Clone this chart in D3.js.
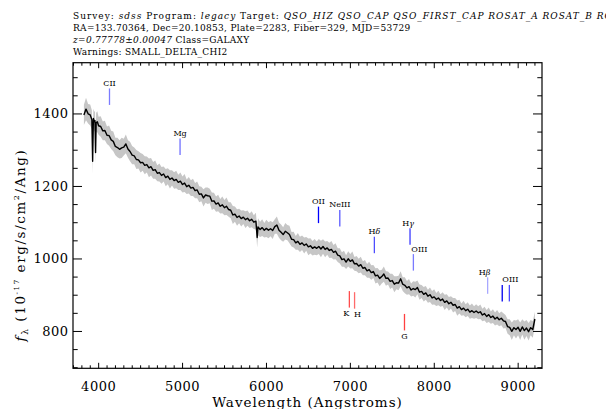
<!DOCTYPE html>
<html>
<head>
<meta charset="utf-8">
<script src="https://cdn.jsdelivr.net/npm/d3@7"></script>
<style>
body { margin: 0; background: #fff; }
svg { display: block; }
</style>
</head>
<body>
<div id="wrapper"></div>
<script>
// spectrum (Angstroms / 1e-17 erg/s/cm^2/Ang)
const wave = [
    3830, 3855, 3880, 3905, 3925, 3934, 3943, 3955, 3962, 3969,
    3976, 3990, 4005, 4030, 4055, 4080, 4105, 4130, 4155, 4180,
    4205, 4230, 4255, 4280, 4305, 4330, 4355, 4380, 4405, 4430,
    4455, 4480, 4505, 4530, 4555, 4580, 4605, 4630, 4655, 4680,
    4705, 4730, 4755, 4780, 4805, 4830, 4855, 4880, 4905, 4930,
    4955, 4980, 5005, 5030, 5055, 5080, 5105, 5130, 5155, 5180,
    5205, 5230, 5255, 5280, 5305, 5330, 5355, 5380, 5405, 5430,
    5455, 5480, 5505, 5530, 5555, 5580, 5605, 5630, 5655, 5680,
    5705, 5730, 5755, 5780, 5805, 5830, 5855, 5880, 5895, 5905,
    5930, 5955, 5980, 6005, 6030, 6055, 6080, 6105, 6130, 6155,
    6180, 6205, 6230, 6255, 6280, 6305, 6330, 6355, 6380, 6405,
    6430, 6455, 6480, 6505, 6530, 6555, 6580, 6605, 6630, 6655,
    6680, 6705, 6730, 6755, 6780, 6805, 6830, 6855, 6880, 6905,
    6930, 6955, 6980, 7005, 7030, 7055, 7080, 7105, 7130, 7155,
    7180, 7205, 7230, 7255, 7280, 7305, 7330, 7355, 7380, 7405,
    7430, 7455, 7480, 7505, 7530, 7555, 7580, 7605, 7630, 7655,
    7680, 7705, 7730, 7755, 7780, 7805, 7830, 7855, 7880, 7905,
    7930, 7955, 7980, 8005, 8030, 8055, 8080, 8105, 8130, 8155,
    8180, 8205, 8230, 8255, 8280, 8305, 8330, 8355, 8380, 8405,
    8430, 8455, 8480, 8505, 8530, 8555, 8580, 8605, 8630, 8655,
    8680, 8705, 8730, 8755, 8780, 8805, 8830, 8855, 8880, 8905,
    8930, 8955, 8980, 9005, 9030, 9055, 9080, 9105, 9130, 9155,
    9180, 9205
]
const flux = [
    1396, 1412, 1399, 1396, 1383, 1268, 1386, 1377, 1380, 1292,
    1375, 1377, 1366, 1364, 1352, 1353, 1340, 1339, 1327, 1323,
    1309, 1306, 1301, 1305, 1307, 1316, 1302, 1295, 1285, 1283,
    1273, 1272, 1264, 1265, 1257, 1259, 1250, 1253, 1243, 1245,
    1235, 1237, 1229, 1233, 1223, 1227, 1218, 1222, 1215, 1218,
    1210, 1213, 1204, 1208, 1198, 1202, 1194, 1196, 1187, 1189,
    1177, 1178, 1167, 1175, 1173, 1172, 1158, 1159, 1150, 1153,
    1144, 1148, 1140, 1144, 1135, 1133, 1120, 1122, 1113, 1117,
    1110, 1114, 1107, 1111, 1104, 1108, 1100, 1103, 1058, 1087,
    1080, 1085, 1078, 1083, 1078, 1082, 1077, 1088, 1092, 1078,
    1072, 1066, 1075, 1071, 1066, 1053, 1052, 1043, 1047, 1039,
    1043, 1036, 1040, 1032, 1035, 1028, 1032, 1028, 1033, 1026,
    1033, 1025, 1029, 1022, 1025, 1017, 1020, 1009, 1007, 997,
    999, 990, 999, 992, 996, 985, 986, 979, 983, 973,
    975, 966, 969, 961, 964, 952, 954, 945, 950, 957,
    945, 946, 937, 939, 929, 933, 932, 944, 929, 926,
    919, 922, 913, 917, 914, 920, 907, 909, 901, 905,
    896, 900, 891, 894, 887, 891, 884, 888, 879, 883,
    875, 879, 871, 873, 863, 867, 859, 863, 856, 860,
    852, 856, 851, 855, 850, 853, 844, 848, 840, 845,
    837, 841, 833, 838, 831, 835, 828, 826, 812, 810,
    799, 809, 804, 810, 799, 811, 801, 808, 798, 809,
    804, 833
]
const fluxErr = [
    28, 31, 27, 29, 26, 34, 27, 28, 26, 30,
    27, 29, 25, 28, 26, 27, 24, 28, 25, 27,
    24, 27, 25, 28, 23, 26, 24, 27, 25, 23,
    26, 24, 27, 23, 25, 22, 26, 24, 23, 25,
    22, 25, 23, 21, 24, 22, 25, 21, 23, 24,
    21, 24, 22, 25, 20, 23, 22, 24, 21, 23,
    22, 20, 24, 21, 23, 20, 24, 22, 21, 23,
    20, 23, 21, 24, 20, 22, 25, 21, 23, 20,
    22, 19, 23, 21, 20, 22, 19, 23, 28, 24,
    21, 23, 20, 24, 22, 21, 23, 20, 24, 21,
    22, 20, 23, 21, 24, 20, 22, 19, 23, 21,
    20, 22, 19, 23, 21, 20, 22, 19, 21, 23,
    20, 22, 19, 21, 23, 20, 22, 19, 21, 20,
    22, 19, 21, 20, 23, 19, 21, 20, 22, 19,
    21, 19, 22, 20, 18, 21, 20, 22, 19, 21,
    20, 18, 21, 19, 22, 18, 20, 21, 19, 22,
    19, 21, 18, 20, 22, 19, 21, 18, 20, 19,
    18, 20, 19, 21, 18, 20, 17, 19, 21, 18,
    19, 17, 20, 18, 21, 19, 17, 20, 18, 19,
    18, 20, 17, 19, 18, 20, 17, 19, 18, 20,
    17, 19, 18, 20, 18, 19, 21, 18, 20, 22,
    24, 21, 25, 22, 24, 21, 25, 22, 24, 21,
    23, 20
]

const xTicks = [4000, 5000, 6000, 7000, 8000, 9000]
const yTicks = [800, 1000, 1200, 1400]

// spectral line markers: label, observed wavelength, flux at marker top, kind
const lineNames = ["CII", "Mg", "OII", "NeIII", "H|δ", "H|γ", "OIII", "H|β", "", "OIII", "K", "H", "G"]
const lineWaves = [4135, 4976, 6626, 6880, 7292, 7717, 7757, 8642, 8816, 8901, 6994, 7056, 7651]
const lineTops = [1469, 1331, 1143, 1134, 1060, 1083, 1012, 948, 927, 927, 910, 907, 847]
const lineKinds = ["em", "em", "em", "em", "em", "em", "em", "em", "em", "em", "abs", "abs", "abs"]
const lineColors = ["#7b7bff", "#7070ff", "#0000ff", "#5a5aff", "#4d4dff", "#3a3aff", "#7a7aff",
    "#a8a8ff", "#0000ee", "#4848ff", "#ff4d4d", "#ff6a6a", "#ff4040"]
const labelShift = [0, 0, 0, 0, 0, -2, 6, -3, 0, 1, -3, 3, 0]

const width = 606
const height = 409
const frame = { left: 73, right: 542, top: 62.7, bottom: 368.3 }
const serif = "'DejaVu Serif', serif"

const svg = d3.select("#wrapper").append("svg")
    .attr("width", width).attr("height", height)

const x = d3.scaleLinear().domain([3700, 9290]).range([frame.left, frame.right])
const y = d3.scaleLinear().domain([697, 1540]).range([frame.bottom, frame.top])

// header lines
const header = [
    [["Survey: ", 0], ["sdss", 1], [" Program: ", 0], ["legacy", 1], [" Target: ", 0],
     ["QSO_HIZ QSO_CAP QSO_FIRST_CAP ROSAT_A ROSAT_B ROSAT_D", 1]],
    [["RA=133.70364, Dec=20.10853, Plate=2283, Fiber=329, MJD=53729", 0]],
    [["z=0.77778\u00b10.00047", 1], [" Class=GALAXY", 0]],
    [["Warnings: SMALL_DELTA_CHI2", 0]]
]
const headerSpacing = [1, 0.3, 0.3, 0.3]
header.forEach((row, i) => {
    const t = svg.append("text")
        .attr("x", 73).attr("y", 18.5 + i * 12.1)
        .style("font-family", serif).style("font-size", "9px")
        .style("letter-spacing", headerSpacing[i] + "px").attr("fill", "#000")
    row.forEach(([s, it]) => {
        t.append("tspan").text(s).style("font-style", it ? "italic" : "normal")
    })
})

const data = wave.map((w, i) => ({ w: w, f: flux[i], e: fluxErr[i] }))

const plot = svg.append("g")

plot.append("path")
    .datum(data)
    .attr("fill", "#c6c6c6")
    .attr("d", d3.area().x(d => x(d.w)).y0(d => y(d.f - d.e)).y1(d => y(d.f + d.e)))

plot.append("path")
    .datum(data)
    .attr("fill", "none")
    .attr("stroke", "#000")
    .attr("stroke-width", 1.4)
    .attr("stroke-linejoin", "round")
    .attr("d", d3.line().x(d => x(d.w)).y(d => y(d.f)))

// line markers
const markLen = 16.5
lineWaves.forEach((w, i) => {
    const xp = x(w)
    const top = y(lineTops[i])
    plot.append("line")
        .attr("x1", xp).attr("x2", xp)
        .attr("y1", top).attr("y2", top + markLen)
        .attr("stroke", lineColors[i]).attr("stroke-width", 1.3)
    if (!lineNames[i]) return
    const ly = lineKinds[i] === "em" ? top - 2.5 : top + markLen + 8.5
    const t = plot.append("text")
        .attr("x", xp + labelShift[i]).attr("y", ly)
        .attr("text-anchor", "middle")
        .style("font-family", serif).style("font-size", "8px").attr("fill", "#000")
    const parts = lineNames[i].split("|")
    t.append("tspan").text(parts[0])
    if (parts[1]) t.append("tspan").text(parts[1]).style("font-style", "italic")
})

// axes
function styleAxis(g) {
    g.select(".domain").remove()
    g.selectAll("line").attr("stroke", "#000")
    g.selectAll("text")
        .style("font-family", serif).style("font-size", "13px")
        .style("letter-spacing", "0.5px").attr("fill", "#000")
}

const xMinor = d3.range(3700, 9300, 100).filter(v => v % 1000 !== 0)
const yMinor = d3.range(700, 1550, 50).filter(v => v % 200 !== 0)

svg.append("g").attr("transform", `translate(0,${frame.bottom})`)
    .call(d3.axisBottom(x).tickValues(xTicks).tickFormat(d3.format("d")).tickSize(-5.5).tickPadding(13)).call(styleAxis)
svg.append("g").attr("transform", `translate(0,${frame.bottom})`)
    .call(d3.axisBottom(x).tickValues(xMinor).tickFormat("").tickSize(-3)).call(styleAxis)
svg.append("g").attr("transform", `translate(0,${frame.top})`)
    .call(d3.axisTop(x).tickValues(xTicks).tickFormat("").tickSize(-5.5)).call(styleAxis)
svg.append("g").attr("transform", `translate(0,${frame.top})`)
    .call(d3.axisTop(x).tickValues(xMinor).tickFormat("").tickSize(-3)).call(styleAxis)

svg.append("g").attr("transform", `translate(${frame.left},0)`)
    .call(d3.axisLeft(y).tickValues(yTicks).tickFormat(d3.format("d")).tickSize(-9).tickPadding(4.5)).call(styleAxis)
svg.append("g").attr("transform", `translate(${frame.left},0)`)
    .call(d3.axisLeft(y).tickValues(yMinor).tickFormat("").tickSize(-4.7)).call(styleAxis)
svg.append("g").attr("transform", `translate(${frame.right},0)`)
    .call(d3.axisRight(y).tickValues(yTicks).tickFormat("").tickSize(-9)).call(styleAxis)
svg.append("g").attr("transform", `translate(${frame.right},0)`)
    .call(d3.axisRight(y).tickValues(yMinor).tickFormat("").tickSize(-4.7)).call(styleAxis)

svg.append("rect")
    .attr("x", frame.left).attr("y", frame.top)
    .attr("width", frame.right - frame.left).attr("height", frame.bottom - frame.top)
    .attr("fill", "none").attr("stroke", "#000").attr("stroke-width", 1.2)

// axis titles
svg.append("text")
    .attr("x", (frame.left + frame.right) / 2).attr("y", 407)
    .attr("text-anchor", "middle")
    .style("font-family", serif).style("font-size", "13.5px").style("letter-spacing", "1px")
    .text("Wavelength (Angstroms)")

const yl = svg.append("text")
    .attr("transform", "translate(25,245) rotate(-90)")
    .attr("text-anchor", "middle")
    .style("font-family", serif).style("font-size", "13.5px").style("letter-spacing", "1.6px")
yl.append("tspan").text("f").style("font-style", "italic")
yl.append("tspan").text("\u03bb").style("font-size", "9px").attr("dy", 3)
yl.append("tspan").text(" (10").attr("dy", -3)
yl.append("tspan").text("-17").style("font-size", "7px").attr("dy", -6)
yl.append("tspan").text(" erg/s/cm").attr("dy", 6)
yl.append("tspan").text("2").style("font-size", "8px").attr("dy", -6)
yl.append("tspan").text("/Ang)").attr("dy", 6)
</script>
</body>
</html>
